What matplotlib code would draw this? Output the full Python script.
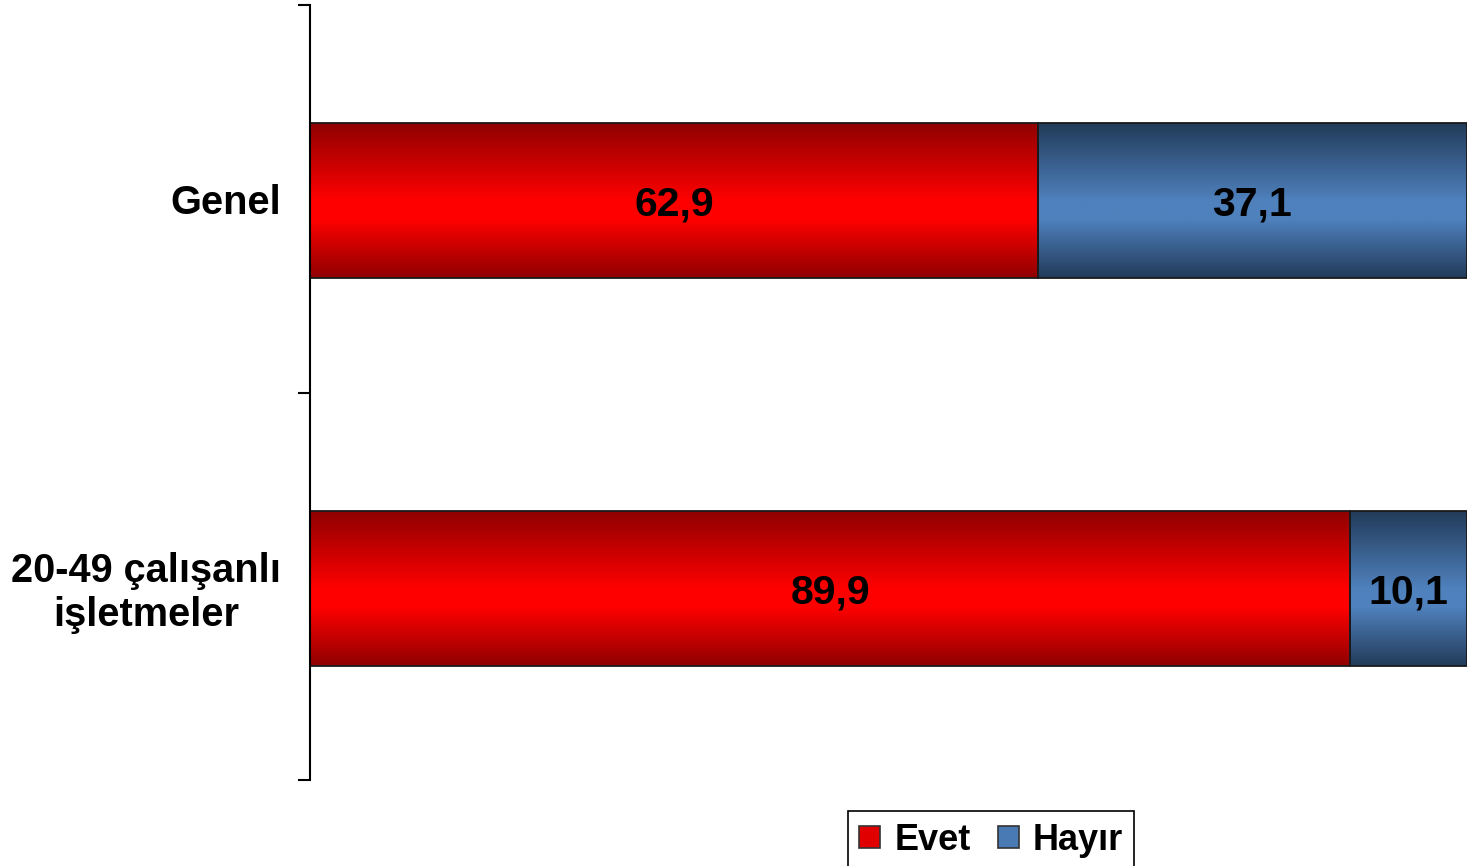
import numpy as np
import matplotlib.pyplot as plt
from matplotlib.colors import LinearSegmentedColormap
from matplotlib.patches import Rectangle

plt.rcParams['font.family'] = ['Liberation Sans', 'DejaVu Sans']

# data
categories = ['20-49 çalışanlı\nişletmeler', 'Genel']
evet = [89.9, 62.9]
hayir = [10.1, 37.1]
series_names = ['Evet', 'Hayır']

red_cmap = LinearSegmentedColormap.from_list(
    'red', [(0, '#8f0000'), (0.5, '#ff0000'), (0.62, '#ff0000'), (1, '#8f0000')])
blue_cmap = LinearSegmentedColormap.from_list(
    'blue', [(0, '#223b59'), (0.5, '#4f81bd'), (0.62, '#4f81bd'), (1, '#223b59')])

fig = plt.figure(figsize=(14.67, 8.66), dpi=100)
ax = fig.add_axes([310 / 1467, 86 / 866, 1 - 310 / 1467, 775 / 866])

ypos = np.arange(len(categories)) + 0.5
h = 0.4
grad = np.linspace(0, 1, 256).reshape(-1, 1)


def gradient_bar(y, left, width, cmap):
    ax.imshow(grad, cmap=cmap, aspect='auto', origin='upper',
              extent=(left, left + width, y - h / 2, y + h / 2), zorder=1)
    ax.add_patch(Rectangle((left, y - h / 2), width, h, facecolor='none',
                           edgecolor='#1a1a1a', linewidth=1.3, zorder=2))


for y, e, n in zip(ypos, evet, hayir):
    gradient_bar(y - 0.005, 0, e, red_cmap)
    gradient_bar(y - 0.005, e, n, blue_cmap)
    ax.text(e / 2, y - 0.005, f'{e:.1f}'.replace('.', ','), ha='center',
            va='center_baseline', fontsize=29.5, fontweight='bold', zorder=3)
    ax.text(e + n / 2, y - 0.005, f'{n:.1f}'.replace('.', ','), ha='center',
            va='center_baseline', fontsize=29.5, fontweight='bold', zorder=3)

ax.set_xlim(0, 100)
ax.set_ylim(0, len(categories))
for s in ['top', 'right', 'bottom']:
    ax.spines[s].set_visible(False)
ax.spines['left'].set_linewidth(1.5)
ax.set_xticks([])
ax.set_yticks([0, 1, 2])
ax.set_yticklabels([])
ax.tick_params(axis='y', which='major', length=9, width=1.5, direction='out')
ax.set_yticks(ypos, minor=True)
ax.set_yticklabels(categories, minor=True, fontsize=28.6, fontweight='bold',
                   multialignment='center', linespacing=1.2)
ax.tick_params(axis='y', which='minor', length=0, pad=21)

handles = [Rectangle((0, 0), 1, 1, facecolor='#e00000', edgecolor='#333333', linewidth=1.2),
           Rectangle((0, 0), 1, 1, facecolor='#4a7ab4', edgecolor='#333333', linewidth=1.2)]
leg = fig.legend(handles, series_names, loc='upper center',
                 bbox_to_anchor=(991 / 1467, 55 / 866), ncol=2, fancybox=False,
                 edgecolor='black', framealpha=1, handlelength=0.58, handleheight=0.58,
                 handletextpad=0.38, columnspacing=0.75, borderpad=0.33, borderaxespad=0,
                 prop={'size': 26, 'weight': 'bold'})
leg.get_frame().set_linewidth(1.2)

fig.savefig('out.png', dpi=100)
